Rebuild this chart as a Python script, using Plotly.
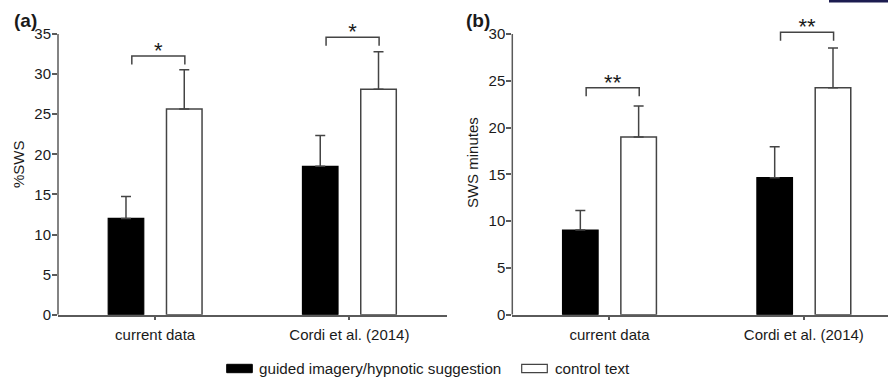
import plotly.graph_objects as go

W, H = 888, 378

categories = ["current data", "Cordi et al. (2014)"]
series_names = ["guided imagery/hypnotic suggestion", "control text"]

# panel (a): %SWS
a_guided = [12.0, 18.5]
a_guided_err = [2.75, 3.85]
a_control = [25.65, 28.1]
a_control_err = [4.9, 4.7]
a_sig = ["*", "*"]
a_bracket_y = [32.25, 34.6]
a_axis_max = 35

# panel (b): SWS minutes
b_guided = [9.04, 14.65]
b_guided_err = [2.1, 3.3]
b_control = [19.0, 24.25]
b_control_err = [3.3, 4.25]
b_sig = ["**", "**"]
b_bracket_y = [24.25, 30.2]
b_axis_max = 30

# layout geometry (pixels)
plot_top, plot_bottom = 34.0, 314.7
headroom = 2.5  # extra data units above the axis top so brackets are not clipped
xa_dom = [58 / W, 446.5 / W]
xb_dom = [512.3 / W, 1.0]

AX = "#5a5a5a"
LN = "#444444"
TXT = "#1a1a1a"
FONT = "Arial, Liberation Sans, sans-serif"

def y_domain(axis_max):
    ppu = (plot_bottom - plot_top) / axis_max
    top_px = plot_top - headroom * ppu
    return [1 - plot_bottom / H, 1 - top_px / H], ppu

ya_dom, a_ppu = y_domain(a_axis_max)
yb_dom, b_ppu = y_domain(b_axis_max)

fig = go.Figure()

def add_panel(xref, yref, g, ge, c, ce):
    xs = list(range(len(categories)))
    fig.add_trace(go.Bar(
        x=xs, y=g, name=series_names[0], xaxis=xref, yaxis=yref,
        marker=dict(color="black", line=dict(color="black", width=1.2)),
        error_y=dict(type="data", symmetric=False, array=ge, arrayminus=[0] * len(ge),
                     color=LN, thickness=1.5, width=5),
        showlegend=False, hoverinfo="skip"))
    fig.add_trace(go.Bar(
        x=xs, y=c, name=series_names[1], xaxis=xref, yaxis=yref,
        marker=dict(color="white", line=dict(color=LN, width=1.5)),
        error_y=dict(type="data", symmetric=False, array=ce, arrayminus=[0] * len(ce),
                     color=LN, thickness=1.5, width=5),
        showlegend=False, hoverinfo="skip"))

def add_brackets(xref, yref, ys, sigs, ppu):
    drop = 8.5 / ppu
    star_lift = -7.5 / ppu
    bx, byy, tx, ty = [], [], [], []
    for i, (by, s) in enumerate(zip(ys, sigs)):
        x0, x1 = i - 0.12, i + 0.153
        bx += [x0, x0, x1, x1, None]
        byy += [by - drop, by, by, by - drop, None]
        tx.append((x0 + x1) / 2)
        ty.append(by + star_lift)
    fig.add_trace(go.Scatter(x=bx, y=byy, mode="lines", xaxis=xref, yaxis=yref,
                             line=dict(color=LN, width=1.5), cliponaxis=False,
                             showlegend=False, hoverinfo="skip"))
    fig.add_trace(go.Scatter(x=tx, y=ty, mode="text", text=sigs, xaxis=xref, yaxis=yref,
                             textposition="top center", cliponaxis=False,
                             textfont=dict(size=22, color=TXT, family=FONT),
                             showlegend=False, hoverinfo="skip"))

add_panel("x", "y", a_guided, a_guided_err, a_control, a_control_err)
add_panel("x2", "y2", b_guided, b_guided_err, b_control, b_control_err)
add_brackets("x", "y", a_bracket_y, a_sig, a_ppu)
add_brackets("x2", "y2", b_bracket_y, b_sig, b_ppu)

shapes = []
annotations = []

# y axis lines, stopping at the top tick
shapes.append(dict(type="line", xref="paper", yref="y", x0=xa_dom[0], x1=xa_dom[0],
                   y0=0, y1=a_axis_max, line=dict(color=AX, width=1.5), layer="above"))
shapes.append(dict(type="line", xref="paper", yref="y2", x0=xb_dom[0], x1=xb_dom[0],
                   y0=0, y1=b_axis_max, line=dict(color=AX, width=1.5), layer="above"))

# panel labels
annotations.append(dict(xref="paper", yref="paper", x=12 / W, y=1 - 20.5 / H, text="<b>(a)</b>",
                        showarrow=False, xanchor="left", yanchor="middle",
                        font=dict(size=19, color=TXT, family=FONT)))
annotations.append(dict(xref="paper", yref="paper", x=464 / W, y=1 - 20.5 / H, text="<b>(b)</b>",
                        showarrow=False, xanchor="left", yanchor="middle",
                        font=dict(size=19, color=TXT, family=FONT)))

# legend drawn manually
leg_y0, leg_y1 = 1 - 372.7 / H, 1 - 364.3 / H
shapes.append(dict(type="rect", xref="paper", yref="paper", x0=226.7 / W, x1=252.3 / W,
                   y0=leg_y0, y1=leg_y1, fillcolor="black", line=dict(color="black", width=1)))
shapes.append(dict(type="rect", xref="paper", yref="paper", x0=521.7 / W, x1=547.3 / W,
                   y0=leg_y0, y1=leg_y1, fillcolor="white", line=dict(color=LN, width=1.2)))
annotations.append(dict(xref="paper", yref="paper", x=256.5 / W, y=1 - 368 / H, text=series_names[0],
                        showarrow=False, xanchor="left", yanchor="middle",
                        font=dict(size=15.2, color=TXT, family=FONT)))
annotations.append(dict(xref="paper", yref="paper", x=552.5 / W, y=1 - 368 / H, text=series_names[1],
                        showarrow=False, xanchor="left", yanchor="middle",
                        font=dict(size=15.2, color=TXT, family=FONT)))

# navy strip at top right (page element in the source)
shapes.append(dict(type="rect", xref="paper", yref="paper", x0=829 / W, x1=1.0,
                   y0=1 - 2.5 / H, y1=1.0, fillcolor="#1c1c50", line=dict(width=0)))

xaxis_common = dict(
    tickmode="array", tickvals=[0, 1], ticktext=categories,
    showline=True, linecolor=AX, linewidth=1.5, ticks="outside", ticklen=4, tickwidth=1.5,
    tickcolor=AX, showgrid=False, zeroline=False, fixedrange=True, automargin=False,
    ticklabelstandoff=2,
    tickfont=dict(size=15, color=TXT, family=FONT),
)
yaxis_common = dict(
    showline=False, ticks="outside", ticklen=5, tickwidth=1.5,
    tickcolor=AX, showgrid=False, zeroline=False, dtick=5, automargin=False,
    ticklabelstandoff=-2,
    tickfont=dict(size=15, color=TXT, family=FONT),
)

fig.update_layout(
    width=W, height=H,
    margin=dict(l=0, r=0, t=0, b=0, autoexpand=False),
    paper_bgcolor="white", plot_bgcolor="white",
    barmode="group", bargap=0.4, bargroupgap=0.39,
    font=dict(family=FONT, color=TXT),
    xaxis=dict(domain=xa_dom, range=[-0.5, 1.5], anchor="y", **xaxis_common),
    yaxis=dict(domain=ya_dom, range=[0, a_axis_max + headroom], anchor="x",
               title=dict(text="%SWS", standoff=6, font=dict(size=15, color=TXT, family=FONT)),
               **yaxis_common),
    xaxis2=dict(domain=xb_dom, range=[-0.5, 1.433], anchor="y2", **xaxis_common),
    yaxis2=dict(domain=yb_dom, range=[0, b_axis_max + headroom], anchor="x2",
                title=dict(text="SWS minutes", standoff=6, font=dict(size=15, color=TXT, family=FONT)),
                **yaxis_common),
    shapes=shapes,
    annotations=annotations,
)

fig.write_html("out.html")
